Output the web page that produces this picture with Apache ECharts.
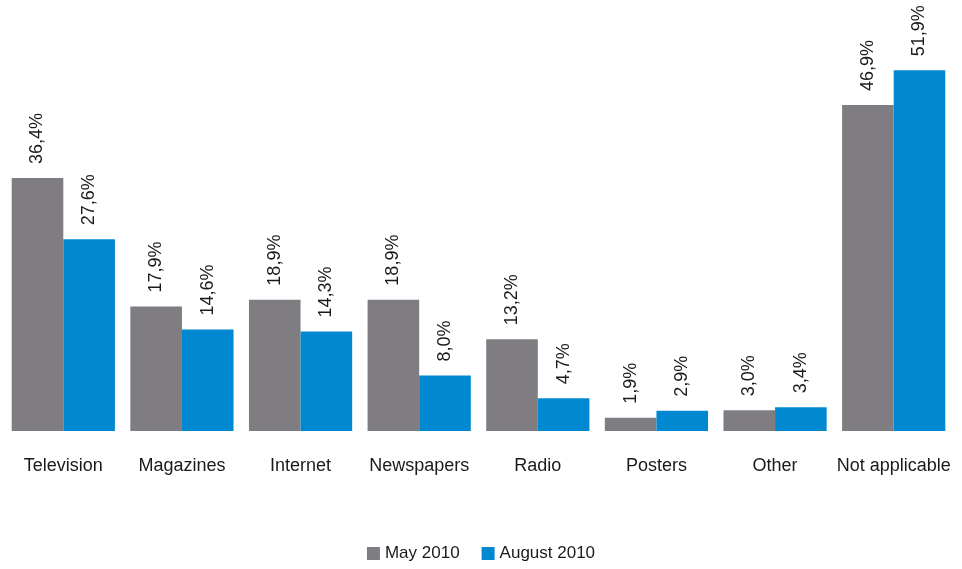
<!DOCTYPE html>
<html><head><meta charset="utf-8">
<script src="https://cdn.jsdelivr.net/npm/echarts@6/dist/echarts.min.js"></script>
<style>html,body{margin:0;padding:0;background:#fff}#c{width:962px;height:569px}</style>
</head><body><div id="c"></div>
<script>
const categories = ['Television','Magazines','Internet','Newspapers','Radio','Posters','Other','Not applicable'];
const may2010 = [36.4, 17.9, 18.9, 18.9, 13.2, 1.9, 3.0, 46.9];
const aug2010 = [27.6, 14.6, 14.3, 8.0, 4.7, 2.9, 3.4, 51.9];
const seriesNames = ['May 2010', 'August 2010'];

const fontFamily = '"Liberation Sans", Arial, sans-serif';
const label = {
  show: true, position: 'top', rotate: 90, align: 'left', verticalAlign: 'middle',
  distance: 14, fontSize: 18, color: '#1a1a1a', fontFamily,
  formatter: p => p.value.toFixed(1).replace('.', ',') + '%'
};
const chart = echarts.init(document.getElementById('c'));
chart.setOption({
  animation: false,
  grid: { left: 4, right: 9, top: 14, bottom: 138 },
  legend: {
    bottom: 2, left: 'center', itemWidth: 13, itemHeight: 13, itemGap: 22,
    icon: 'rect',
    textStyle: { fontSize: 17, color: '#1a1a1a', fontFamily }
  },
  xAxis: {
    type: 'category', data: categories,
    axisLine: { show: false }, axisTick: { show: false },
    axisLabel: { interval: 0, fontSize: 18, color: '#1a1a1a', fontFamily, margin: 26 }
  },
  yAxis: { type: 'value', min: 0, max: 60, show: false, splitLine: { show: false } },
  series: [
    { name: seriesNames[0], type: 'bar', data: may2010, barGap: 0, barCategoryGap: '13%',
      itemStyle: { color: '#807d82' }, label },
    { name: seriesNames[1], type: 'bar', data: aug2010, barGap: 0, barCategoryGap: '13%',
      itemStyle: { color: '#0088d0' }, label }
  ]
});
</script></body></html>
